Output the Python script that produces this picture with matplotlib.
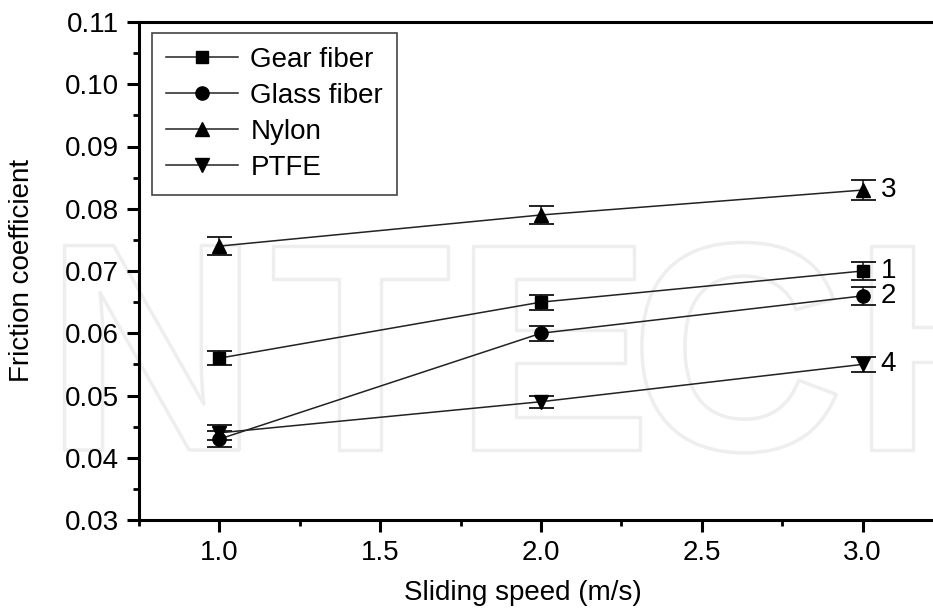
import matplotlib
matplotlib.use('Agg')
import matplotlib.pyplot as plt
import matplotlib.patheffects as pe
from matplotlib.ticker import MultipleLocator

plt.rcParams['font.family'] = ['Liberation Sans', 'DejaVu Sans']

# Friction coefficient vs sliding speed, four filler materials
speed = [1.0, 2.0, 3.0]
names = ['Gear fiber', 'Glass fiber', 'Nylon', 'PTFE']
gear = [0.056, 0.065, 0.070]
glass = [0.043, 0.060, 0.066]
nylon = [0.074, 0.079, 0.083]
ptfe = [0.044, 0.049, 0.055]
gear_err = [0.0011, 0.0012, 0.0014]
glass_err = [0.0013, 0.0012, 0.0014]
nylon_err = [0.0014, 0.0015, 0.0016]
ptfe_err = [0.0012, 0.0010, 0.0012]
curve_ids = ['1', '2', '3', '4']

series = [gear, glass, nylon, ptfe]
errors = [gear_err, glass_err, nylon_err, ptfe_err]
markers = ['s', 'o', '^', 'v']
msizes = [9, 9.5, 10.5, 10.5]

FS = 20

fig = plt.figure(figsize=(9.33, 6.10), dpi=100)
fig.patch.set_facecolor('white')

# faint publisher watermark, outline only, kept behind the axes
wm_letters = ['N', 'T', 'E', 'C', 'H']
wm_centers = [152, 360, 552, 737, 958]
for ch, cx in zip(wm_letters, wm_centers):
    fig.text(cx / 933, 160 / 610, ch, fontsize=214, fontweight='bold',
             color='none', ha='center', va='baseline', zorder=-5,
             path_effects=[pe.withStroke(linewidth=2.5, foreground='#eeeeee')])

ax = fig.add_axes([139 / 933, 90 / 610, 804 / 933, 498 / 610])
ax.set_facecolor('none')

handles = []
for ys, err, m, ms, name in zip(series, errors, markers, msizes, names):
    ax.errorbar(speed, ys, yerr=err, fmt='none', ecolor='#111111',
                elinewidth=1.1, capsize=9, capthick=1.3, zorder=3)
    h, = ax.plot(speed, ys, marker=m, markersize=ms, color='#222222',
                 markerfacecolor='black', markeredgecolor='black',
                 linewidth=1.1, label=name, zorder=4)
    handles.append(h)

for ys, cid in zip(series, curve_ids):
    ax.annotate(cid, (speed[-1], ys[-1]), xytext=(13, 0),
                textcoords='offset points', fontsize=FS, va='center', ha='left')

ax.set_xlim(0.75, 3.25)
ax.set_ylim(0.03, 0.11)
ax.xaxis.set_minor_locator(MultipleLocator(0.25))
ax.yaxis.set_minor_locator(MultipleLocator(0.005))
ax.set_xticks([1.0, 1.5, 2.0, 2.5, 3.0])
ax.set_xticklabels(['1.0', '1.5', '2.0', '2.5', '3.0'])
ax.set_yticks([0.03, 0.04, 0.05, 0.06, 0.07, 0.08, 0.09, 0.10, 0.11])
ax.set_yticklabels(['0.03', '0.04', '0.05', '0.06', '0.07', '0.08',
                    '0.09', '0.10', '0.11'])

for side in ['left', 'bottom', 'top']:
    ax.spines[side].set_linewidth(2.2)
ax.spines['right'].set_visible(False)

ax.tick_params(axis='both', which='major', direction='out', length=8.5,
               width=2.2, labelsize=FS, pad=6)
ax.tick_params(axis='both', which='minor', direction='out', length=4.5,
               width=2.0)
ax.tick_params(top=False, right=False, which='both')

ax.set_xlabel('Sliding speed (m/s)', fontsize=FS, va='center')
ax.xaxis.set_label_coords(0.478, -0.147)
ax.set_ylabel('Friction coefficient', fontsize=FS, va='center')
ax.yaxis.set_label_coords(-0.145, 0.5)

leg = ax.legend(handles=handles, loc='upper left',
                bbox_to_anchor=(0.016, 0.978), borderaxespad=0,
                fontsize=FS, frameon=True, fancybox=False, framealpha=1,
                edgecolor='#444444', handlelength=2.6, handletextpad=0.45,
                labelspacing=0.36, borderpad=0.5, numpoints=1)
leg.get_frame().set_linewidth(1.2)

fig.savefig('out.png', dpi=100)
